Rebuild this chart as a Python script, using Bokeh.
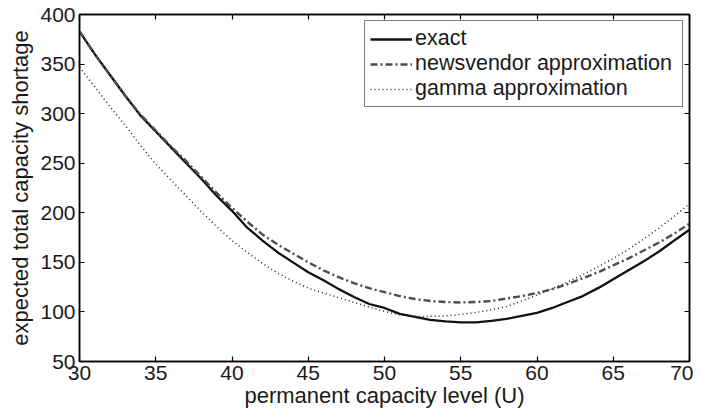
from bokeh.plotting import figure
from bokeh.models import LinearAxis, Legend, LegendItem, FixedTicker
from bokeh.embed import file_html
from bokeh.resources import INLINE

# ---- data ----
capacity = [30, 31, 32, 33, 34, 35, 36, 37, 38, 39, 40, 41, 42, 43, 44, 45, 46, 47, 48, 49,
            50, 51, 52, 53, 54, 55, 56, 57, 58, 59, 60, 61, 62, 63, 64, 65, 66, 67, 68, 69, 70]
exact = [383, 360, 339, 318, 298, 282, 266, 250, 234, 217, 202, 185, 172, 160, 150, 140, 132,
         123, 115, 108, 104, 98, 95, 92, 90.5, 89.5, 89.5, 91, 93, 96, 99, 104, 110, 116, 124,
         133, 142, 151, 161, 172, 183]
newsvendor = [383, 360, 339, 318, 299, 283, 267, 252, 236, 220, 205, 191, 178, 168, 159, 150,
              142, 135, 129, 124, 120, 116, 113, 111, 110, 109.5, 110, 111, 113.5, 116, 119,
              123, 128, 134, 140, 147, 154, 162, 170, 179, 189]
gamma = [347, 327, 307, 288, 268, 249, 233, 217, 201, 186, 172, 160, 149, 139, 131, 124, 119,
         114.5, 109.5, 105, 100.5, 97, 95.5, 95.5, 96, 97.5, 99.5, 102, 105.5, 111, 117, 123.5,
         130, 137.5, 145.5, 154, 163, 173.5, 184.5, 196.5, 209]
x_ticks = [30, 35, 40, 45, 50, 55, 60, 65, 70]
y_ticks = [50, 100, 150, 200, 250, 300, 350, 400]
x_label = "permanent capacity level (U)"
y_label = "expected total capacity shortage"
series_labels = ["exact", "newsvendor approximation", "gamma approximation"]

FONT = "Liberation Sans"
TEXT = "#1a1a1a"

p = figure(width=693, height=414, x_range=(30, 70), y_range=(50, 400),
           output_backend="svg", toolbar_location=None,
           min_border_left=79, min_border_right=4, min_border_top=14, min_border_bottom=53)

p.xgrid.visible = False
p.ygrid.visible = False
p.outline_line_color = "black"
p.outline_line_width = 1.5
p.background_fill_color = "white"
p.border_fill_color = "white"

def style_axis(ax, ticks, show_labels=True):
    ax.ticker = FixedTicker(ticks=ticks)
    ax.major_tick_in = 5
    ax.major_tick_out = 0
    ax.minor_tick_in = 0
    ax.minor_tick_out = 0
    ax.axis_line_color = "black"
    ax.axis_line_width = 1.5
    ax.major_tick_line_color = "black"
    ax.major_tick_line_width = 1.2
    if show_labels:
        ax.major_label_text_font = FONT
        ax.major_label_text_font_size = "21px"
        ax.major_label_text_color = TEXT
        ax.axis_label_text_font = FONT
        ax.axis_label_text_font_size = "22px"
        ax.axis_label_text_font_style = "normal"
        ax.axis_label_text_color = TEXT
    else:
        ax.major_label_overrides = {t: "" for t in ticks}
        ax.major_label_standoff = 0

style_axis(p.xaxis[0], x_ticks)
style_axis(p.yaxis[0], y_ticks)
p.xaxis[0].axis_label = x_label
p.yaxis[0].axis_label = y_label
p.xaxis[0].major_label_standoff = 4
p.xaxis[0].axis_label_standoff = 0
p.yaxis[0].major_label_standoff = 4
p.yaxis[0].axis_label_standoff = 4

top_axis = LinearAxis()
style_axis(top_axis, x_ticks, show_labels=False)
p.add_layout(top_axis, "above")
right_axis = LinearAxis()
style_axis(right_axis, y_ticks, show_labels=False)
p.add_layout(right_axis, "right")

r_exact = p.line(capacity, exact, line_color="#111111", line_width=2.3)
r_news = p.line(capacity, newsvendor, line_color="#4d4d4d", line_width=2.4,
                line_dash="7 3 2 3")
r_gamma = p.line(capacity, gamma, line_color="#222222", line_width=1.5,
                 line_dash="1 3")

legend = Legend(items=[LegendItem(label=series_labels[0], renderers=[r_exact]),
                       LegendItem(label=series_labels[1], renderers=[r_news]),
                       LegendItem(label=series_labels[2], renderers=[r_gamma])],
                location="top_right")
legend.label_text_font = FONT
legend.label_text_font_size = "21.5px"
legend.label_text_color = TEXT
legend.glyph_width = 42
legend.glyph_height = 24
legend.label_height = 24
legend.label_width = 262
legend.label_standoff = 3
legend.spacing = 0
legend.padding = 5
legend.margin = 6
legend.border_line_color = "black"
legend.border_line_width = 1
legend.background_fill_alpha = 1
p.add_layout(legend)

open("out.html", "w").write(file_html(p, INLINE))
